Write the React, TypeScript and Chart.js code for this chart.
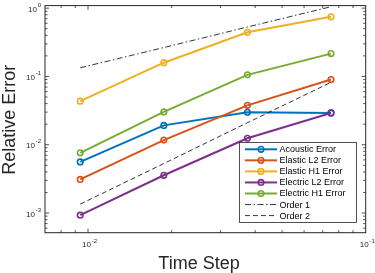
import React, { useEffect, useRef } from "react";
import { Chart, registerables } from "chart.js";

Chart.register(...registerables);

// ---- data ----
const timeSteps = [0.009375, 0.01875, 0.0375, 0.075];
const acousticError = [0.0056, 0.0192, 0.0299, 0.0292];
const elasticL2Error = [0.0031, 0.0117, 0.0377, 0.09];
const elasticH1Error = [0.0435, 0.159, 0.443, 0.747];
const electricL2Error = [0.00093, 0.00357, 0.01245, 0.0292];
const electricH1Error = [0.0076, 0.0302, 0.1055, 0.216];
const order1 = [0.134, 0.265, 0.53, 1.05];
const order2 = [0.00135, 0.0053, 0.021, 0.082];

const seriesLabels = [
  "Acoustic Error",
  "Elastic L2 Error",
  "Elastic H1 Error",
  "Electric L2 Error",
  "Electric H1 Error",
];
const seriesValues = [acousticError, elasticL2Error, elasticH1Error, electricL2Error, electricH1Error];
const seriesColors = ["#0072BD", "#D95319", "#EDB120", "#7E2F8E", "#77AC30"];
const refLabels = ["Order 1", "Order 2"];
const refValues = [order1, order2];
const refDashes = [
  [6, 2.5, 1.5, 2.5],
  [5, 3],
];

const xTickDecades = [-2, -1];
const yTickDecades = [-3, -2, -1, 0];
const xTitle = "Time Step";
const yTitle = "Relative Error";

const AXIS = "#262626";
const FONT = '"Liberation Sans", Arial, Helvetica, sans-serif';

function pts(vals: number[]) {
  return timeSteps.map((x, i) => ({ x, y: vals[i] }));
}

const matlabPlugin = {
  id: "matlabAxes",
  afterDatasetsDraw(chart: any) {
    const { ctx, chartArea: a, scales } = chart;
    const xs = scales.x;
    const ys = scales.y;
    ctx.save();
    ctx.strokeStyle = AXIS;
    ctx.lineWidth = 0.8;

    // x ticks (bottom & top, inward)
    for (let d = -3; d <= 0; d++) {
      for (let m = 1; m <= 9; m++) {
        const v = m * Math.pow(10, d);
        if (v <= xs.min * 1.0001 || v >= xs.max * 0.9999) continue;
        const px = xs.getPixelForValue(v);
        const len = m === 1 ? 4 : 2.5;
        ctx.beginPath();
        ctx.moveTo(px, a.bottom);
        ctx.lineTo(px, a.bottom - len);
        ctx.moveTo(px, a.top);
        ctx.lineTo(px, a.top + len);
        ctx.stroke();
      }
    }
    // y ticks (left & right, inward)
    for (let d = -4; d <= 0; d++) {
      for (let m = 1; m <= 9; m++) {
        const v = m * Math.pow(10, d);
        if (v <= ys.min * 1.0001 || v >= ys.max * 0.9999) continue;
        const py = ys.getPixelForValue(v);
        const len = m === 1 ? 4 : 2.5;
        ctx.beginPath();
        ctx.moveTo(a.left, py);
        ctx.lineTo(a.left + len, py);
        ctx.moveTo(a.right, py);
        ctx.lineTo(a.right - len, py);
        ctx.stroke();
      }
    }
    // box
    ctx.lineWidth = 1;
    ctx.strokeRect(a.left, a.top, a.right - a.left, a.bottom - a.top);

    // tick labels
    ctx.fillStyle = AXIS;
    ctx.textBaseline = "middle";
    ctx.textAlign = "left";
    const bigFont = `8px ${FONT}`;
    const smallFont = `6px ${FONT}`;
    yTickDecades.forEach((d) => {
      const py = ys.getPixelForValue(Math.pow(10, d));
      const exp = String(d);
      ctx.font = bigFont;
      const w10 = ctx.measureText("10").width;
      ctx.font = smallFont;
      const we = ctx.measureText(exp).width;
      const total = w10 + 0.8 + we;
      const start = a.left - 4 - total;
      ctx.font = bigFont;
      ctx.fillText("10", start, py + 1.3);
      ctx.font = smallFont;
      ctx.fillText(exp, start + w10 + 0.8, py - 3);
    });
    xTickDecades.forEach((d) => {
      const px = xs.getPixelForValue(Math.pow(10, d));
      const exp = String(d);
      ctx.font = bigFont;
      const w10 = ctx.measureText("10").width;
      ctx.font = smallFont;
      const we = ctx.measureText(exp).width;
      const total = w10 + 0.8 + we;
      const start = px + 1.5 - total / 2;
      ctx.font = bigFont;
      ctx.fillText("10", start, a.bottom + 12.5);
      ctx.font = smallFont;
      ctx.fillText(exp, start + w10 + 0.8, a.bottom + 8.8);
    });

    // axis titles
    ctx.font = `18px ${FONT}`;
    ctx.textAlign = "center";
    ctx.textBaseline = "alphabetic";
    ctx.fillText(xTitle, 199, 268.5);
    ctx.save();
    ctx.translate(15, (a.top + a.bottom) / 2 + 0.5);
    ctx.rotate(-Math.PI / 2);
    ctx.fillText(yTitle, 0, 0);
    ctx.restore();

    ctx.restore();
  },
  afterDraw(chart: any) {
    const { ctx } = chart;
    const ds = chart.data.datasets;
    ctx.save();
    const bx = 239.5, by = 142.5, bw = 117, bh = 80;
    ctx.fillStyle = "#ffffff";
    ctx.fillRect(bx, by, bw, bh);
    ctx.strokeStyle = AXIS;
    ctx.lineWidth = 0.8;
    ctx.strokeRect(bx, by, bw, bh);
    ctx.font = `9px ${FONT}`;
    ctx.textBaseline = "middle";
    ctx.textAlign = "left";
    ds.forEach((d: any, i: number) => {
      const y = 149.3 + 11.05 * i;
      ctx.save();
      ctx.strokeStyle = d.borderColor;
      ctx.lineWidth = d.borderWidth;
      ctx.setLineDash(d.borderDash || []);
      ctx.beginPath();
      ctx.moveTo(245, y);
      ctx.lineTo(277, y);
      ctx.stroke();
      ctx.setLineDash([]);
      if (d.pointRadius > 0) {
        ctx.beginPath();
        ctx.arc(261, y, d.pointRadius, 0, Math.PI * 2);
        ctx.lineWidth = d.pointBorderWidth;
        ctx.stroke();
      }
      ctx.restore();
      ctx.fillStyle = "#000";
      ctx.fillText(d.label, 279.5, y + 0.5);
    });
    ctx.restore();
  },
};

export default function App() {
  const ref = useRef<HTMLCanvasElement | null>(null);
  useEffect(() => {
    if (!ref.current) return;
    const datasets: any[] = [];
    seriesLabels.forEach((label, i) => {
      datasets.push({
        label,
        data: pts(seriesValues[i]),
        borderColor: seriesColors[i],
        backgroundColor: seriesColors[i],
        borderWidth: 2,
        pointRadius: 2.8,
        pointBorderWidth: 1.6,
        pointBackgroundColor: "rgba(255,255,255,0)",
        pointBorderColor: seriesColors[i],
        order: -i,
        tension: 0,
      });
    });
    refLabels.forEach((label, i) => {
      datasets.push({
        label,
        data: pts(refValues[i]),
        borderColor: "#000000",
        backgroundColor: "#000000",
        borderWidth: 0.8,
        borderDash: refDashes[i],
        pointRadius: 0,
        order: -10 - i,
      });
    });
    const chart = new Chart(ref.current, {
      type: "line",
      data: { datasets },
      options: {
        animation: false,
        responsive: false,
        maintainAspectRatio: false,
        devicePixelRatio: 1,
        layout: { padding: { left: 45, right: 9.3, top: 2, bottom: 40.3 } },
        plugins: { legend: { display: false }, tooltip: { enabled: false } },
        scales: {
          x: { type: "logarithmic", min: 0.007, max: 0.1, display: false },
          y: { type: "logarithmic", min: 0.000515, max: 1.09, display: false },
        },
      },
      plugins: [matlabPlugin],
    } as any);
    return () => chart.destroy();
  }, []);
  return (
    <div style={{ position: "absolute", left: 0, top: 0, width: 375, height: 273, background: "#fff" }}>
      <canvas ref={ref} width={375} height={273} style={{ display: "block" }} />
    </div>
  );
}
